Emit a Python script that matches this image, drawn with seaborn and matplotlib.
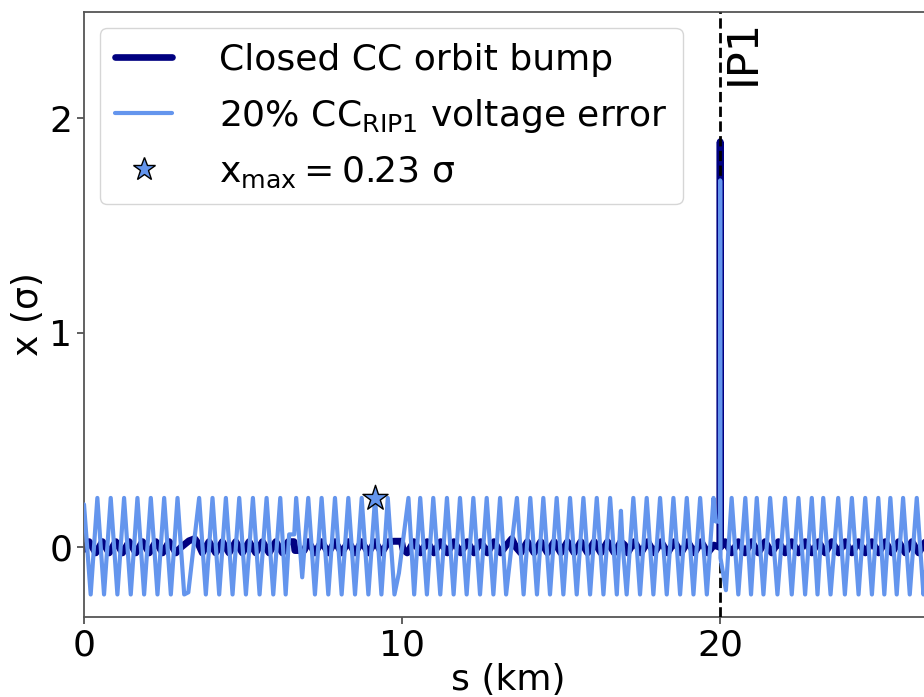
import numpy as np
import matplotlib
matplotlib.use("Agg")
import matplotlib.pyplot as plt
from matplotlib.lines import Line2D
import seaborn as sns

# Horizontal closed orbit along the ring, s in km, x in units of beam sigma
error_orbit = [
    (0.00, 0.20), (0.21, -0.22), (0.42, 0.23), (0.63, -0.22), (0.84, 0.23),
    (1.05, -0.22), (1.26, 0.23), (1.47, -0.22), (1.68, 0.23), (1.89, -0.22),
    (2.10, 0.23), (2.31, -0.22), (2.52, 0.23), (2.73, -0.22), (2.94, 0.23),
    (3.15, -0.22), (3.28, -0.21), (3.62, 0.23), (3.83, -0.22), (4.04, 0.23),
    (4.25, -0.22), (4.46, 0.23), (4.67, -0.22), (4.88, 0.23), (5.09, -0.22),
    (5.31, 0.23), (5.52, -0.22), (5.74, 0.23), (5.95, -0.22), (6.17, 0.23),
    (6.34, -0.22), (6.45, 0.06), (6.61, 0.06), (6.67, 0.23), (6.86, -0.14),
    (7.05, 0.23), (7.26, -0.22), (7.47, 0.23), (7.68, -0.22), (7.89, 0.23),
    (8.10, -0.22), (8.31, 0.23), (8.52, -0.22), (8.73, 0.23), (8.94, -0.22),
    (9.15, 0.23), (9.35, -0.22), (9.55, 0.23), (9.76, -0.22), (9.90, -0.12),
    (10.20, 0.23), (10.38, -0.22), (10.57, 0.23), (10.78, -0.22), (10.98, 0.23),
    (11.20, -0.22), (11.41, 0.23), (11.62, -0.22), (11.82, 0.23), (12.03, -0.22),
    (12.24, 0.23), (12.45, -0.22), (12.66, 0.23), (12.87, -0.22), (13.08, 0.23),
    (13.27, -0.22), (13.61, 0.23), (13.82, -0.22), (14.03, 0.23), (14.24, -0.22),
    (14.44, 0.23), (14.65, -0.22), (14.86, 0.23), (15.07, -0.22), (15.28, 0.23),
    (15.49, -0.22), (15.70, 0.23), (15.91, -0.22), (16.12, 0.23), (16.33, -0.22),
    (16.54, 0.23), (16.75, -0.22), (16.88, 0.17), (16.93, 0.02), (17.06, -0.22),
    (17.27, 0.23), (17.48, -0.22), (17.69, 0.23), (17.90, -0.22), (18.11, 0.23),
    (18.32, -0.22), (18.53, 0.23), (18.74, -0.22), (18.95, 0.23), (19.16, -0.22),
    (19.37, 0.23), (19.58, -0.22), (19.79, 0.23), (19.86, 0.12), (19.99, 0.12),
    (20.00, 1.71), (20.01, -0.05), (20.18, -0.20), (20.36, 0.23), (20.57, -0.22),
    (20.79, 0.23), (20.97, -0.22), (21.15, 0.23), (21.36, -0.22), (21.57, 0.23),
    (21.80, -0.22), (22.04, 0.23), (22.25, -0.22), (22.46, 0.23), (22.67, -0.22),
    (22.88, 0.23), (23.06, -0.22), (23.24, 0.23), (23.47, -0.22), (23.71, 0.23),
    (23.92, -0.22), (24.14, 0.23), (24.35, -0.22), (24.56, 0.23), (24.77, -0.22),
    (24.97, 0.23), (25.16, -0.22), (25.35, 0.23), (25.55, -0.22), (25.75, 0.23),
    (25.96, -0.22), (26.18, 0.23), (26.39, -0.22), (26.60, 0.23), (26.66, 0.20),
]

closed_bump = [
    (0.00, -0.010), (0.16, 0.026), (0.37, -0.026), (0.58, 0.026), (0.79, -0.026),
    (1.00, 0.026), (1.21, -0.026), (1.42, 0.026), (1.63, -0.026), (1.84, 0.026),
    (2.05, -0.026), (2.26, 0.026), (2.47, -0.026), (2.68, 0.026), (2.89, -0.026),
    (3.05, 0.000), (3.30, 0.030), (3.48, 0.040), (3.58, 0.020), (3.72, -0.026),
    (3.93, 0.026), (4.14, -0.026), (4.35, 0.026), (4.56, -0.026), (4.77, 0.026),
    (4.98, -0.026), (5.19, 0.026), (5.40, -0.026), (5.61, 0.026), (5.82, -0.026),
    (6.03, 0.026), (6.24, -0.026), (6.42, 0.026), (6.60, 0.026), (6.63, -0.015),
    (6.92, -0.015), (7.05, 0.026), (7.26, -0.026), (7.47, 0.026), (7.68, -0.026),
    (7.89, 0.026), (8.10, -0.026), (8.31, 0.026), (8.52, -0.026), (8.73, 0.026),
    (8.94, -0.026), (9.15, 0.026), (9.36, -0.026), (9.57, 0.026), (9.75, 0.028),
    (9.98, 0.028), (10.03, -0.010), (10.16, -0.026), (10.37, 0.026), (10.58, -0.026),
    (10.79, 0.026), (11.00, -0.026), (11.21, 0.026), (11.42, -0.026), (11.63, 0.026),
    (11.84, -0.026), (12.05, 0.026), (12.26, -0.026), (12.47, 0.026), (12.68, -0.026),
    (12.89, 0.026), (13.10, -0.026), (13.28, 0.010), (13.45, 0.040), (13.58, 0.000),
    (13.73, -0.026), (13.94, 0.026), (14.15, -0.026), (14.36, 0.026), (14.57, -0.026),
    (14.78, 0.026), (14.99, -0.026), (15.20, 0.026), (15.41, -0.026), (15.62, 0.026),
    (15.83, -0.026), (16.04, 0.026), (16.25, -0.026), (16.46, 0.026), (16.67, -0.026),
    (16.88, 0.026), (17.00, 0.010), (17.09, -0.026), (17.30, 0.026), (17.51, -0.026),
    (17.72, 0.026), (17.93, -0.026), (18.14, 0.026), (18.35, -0.026), (18.56, 0.026),
    (18.77, -0.026), (18.98, 0.026), (19.19, -0.026), (19.40, 0.026), (19.61, -0.026),
    (19.80, 0.010), (19.99, 0.000), (20.00, 1.890), (20.01, 0.000), (20.15, 0.026),
    (20.36, -0.026), (20.57, 0.026), (20.78, -0.026), (20.99, 0.026), (21.20, -0.026),
    (21.41, 0.026), (21.62, -0.026), (21.83, 0.026), (22.04, -0.026), (22.25, 0.026),
    (22.46, -0.026), (22.67, 0.026), (22.88, -0.026), (23.09, 0.026), (23.30, -0.026),
    (23.51, 0.026), (23.72, -0.026), (23.93, 0.026), (24.14, -0.026), (24.35, 0.026),
    (24.56, -0.026), (24.77, 0.026), (24.98, -0.026), (25.19, 0.026), (25.40, -0.026),
    (25.61, 0.026), (25.82, -0.026), (26.03, 0.026), (26.24, -0.026), (26.45, 0.026),
    (26.66, -0.010),
]

x_max_point = (9.15, 0.23)
ip1_position = 20.0
ring_length = 26.659
x_ticks = [0, 10, 20]
y_ticks = [0, 1, 2]

bump_color = "#000080"
error_color = "#6495ED"

sns.set_style("white")
plt.rcParams["font.family"] = ["DejaVu Sans"]
plt.rcParams["mathtext.fontset"] = "dejavusans"
plt.rcParams["text.color"] = "black"
plt.rcParams["axes.labelcolor"] = "black"
plt.rcParams["xtick.color"] = "black"
plt.rcParams["ytick.color"] = "black"

fig = plt.figure(figsize=(9.24, 6.97), dpi=100)
ax = fig.add_axes([84 / 924, 1 - 617 / 697, (932 - 84) / 924, (617 - 12) / 697])

bump_s, bump_x = map(np.array, zip(*closed_bump))
err_s, err_x = map(np.array, zip(*error_orbit))

sns.lineplot(x=bump_s, y=bump_x, ax=ax, color=bump_color, lw=5.0,
             sort=False, estimator=None, zorder=2,
             solid_joinstyle="round", solid_capstyle="round")
ax.axvline(ip1_position, color="black", ls="--", lw=2, zorder=3)
sns.lineplot(x=err_s, y=err_x, ax=ax, color=error_color, lw=3.0,
             sort=False, estimator=None, zorder=4,
             solid_joinstyle="round", solid_capstyle="round")
sns.scatterplot(x=[x_max_point[0]], y=[x_max_point[1]], ax=ax, marker="*",
                s=360, color=error_color, edgecolor="black", linewidth=1,
                zorder=5)

ax.text(20.72, 2.31, "IP1", rotation=90, ha="center", va="center", fontsize=31)

ax.set_xlim(0, ring_length)
ax.set_ylim(-0.325, 2.495)
ax.set_xticks(x_ticks)
ax.set_yticks(y_ticks)
ax.tick_params(axis="both", labelsize=26, length=5, width=1.2,
               direction="out", bottom=True, left=True)
ax.tick_params(axis="both", color="#444444")
ax.set_xlabel("s (km)", fontsize=26, labelpad=0)
ax.set_ylabel("x (σ)", fontsize=26, labelpad=3)
for sp in ax.spines.values():
    sp.set_color("#555555")
    sp.set_linewidth(1.3)

handles = [
    Line2D([], [], color=bump_color, lw=4.8),
    Line2D([], [], color=error_color, lw=3.0),
    Line2D([], [], ls="none", marker="*", markersize=17,
           markerfacecolor=error_color, markeredgecolor="black",
           markeredgewidth=1),
]
labels = [
    "Closed CC orbit bump",
    r"20% CC$_{\mathrm{RIP1}}$ voltage error",
    r"$\mathrm{x_{max}=0.23}$ σ",
]
ax.legend(handles, labels, loc="upper left", fontsize=26, frameon=True,
          framealpha=0.8, edgecolor="#cccccc", fancybox=True,
          handlelength=1.6, handletextpad=1.3, labelspacing=0.55,
          borderaxespad=0.45)

fig.savefig("out.png", dpi=100)
